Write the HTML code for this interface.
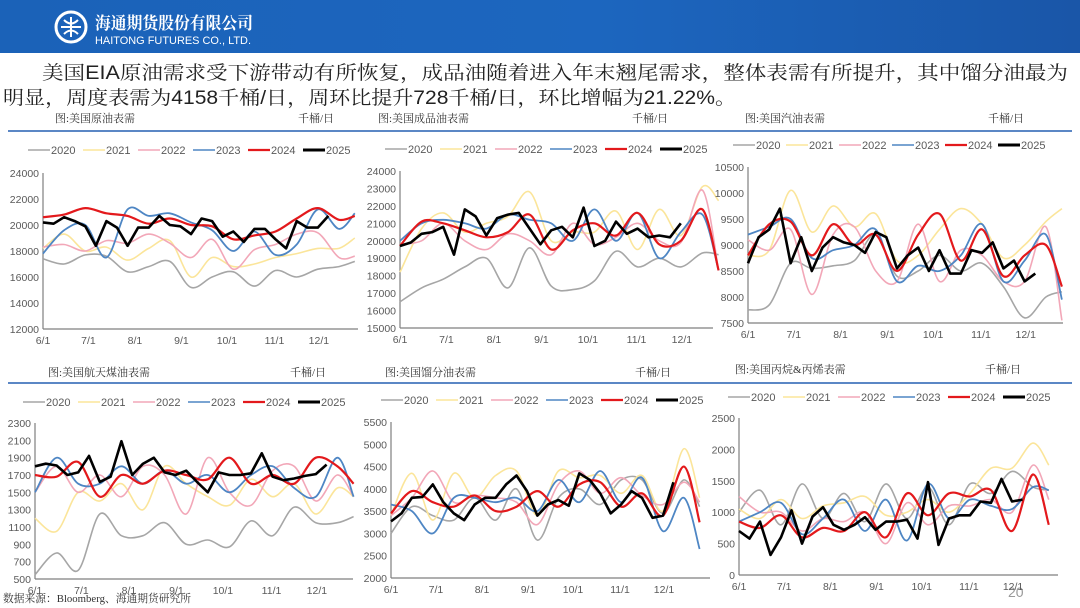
<!DOCTYPE html>
<html><head><meta charset="utf-8">
<style>
html,body{margin:0;padding:0;background:#fff;}
#root{position:relative;width:1080px;height:608px;overflow:hidden;font-family:"Liberation Sans","Noto Sans CJK SC",sans-serif;}
svg text{font-family:"Liberation Sans","Noto Sans CJK SC",sans-serif;}
.ser{font-family:"Liberation Serif","Noto Serif CJK SC",serif !important;}
.body{font-family:"Liberation Sans","Noto Serif CJK SC",serif !important;}
</style></head>
<body>
<div id="root">
<svg id="svg" width="1080" height="608" viewBox="0 0 1080 608" xmlns="http://www.w3.org/2000/svg">
<defs>
<linearGradient id="hdr" x1="0" y1="0" x2="1" y2="0">
<stop offset="0" stop-color="#1b62b8"/><stop offset="0.55" stop-color="#1c66bf"/><stop offset="1" stop-color="#1a56a8"/>
</linearGradient>
</defs>
<g>
<rect x="0" y="0" width="1080" height="53" fill="url(#hdr)"/>
<circle cx="71" cy="27" r="15" fill="none" stroke="#fff" stroke-width="3"/>
<path d="M61 27h20M71 17v20M64 20q7 7 14 0M64 34q7-7 14 0" stroke="#fff" stroke-width="2" fill="none"/>
<text x="95" y="29" font-size="17" font-weight="bold" fill="#fff" class="ser" textLength="158" lengthAdjust="spacingAndGlyphs">海通期货股份有限公司</text>
<text x="95" y="44" font-size="11" fill="#fff" textLength="156" lengthAdjust="spacingAndGlyphs">HAITONG FUTURES CO., LTD.</text>
</g>
<g>
<text x="42" y="79" font-size="19" fill="#222" class="body" textLength="1026" lengthAdjust="spacingAndGlyphs">美国EIA原油需求受下游带动有所恢复，成品油随着进入年末翘尾需求，整体表需有所提升，其中馏分油最为</text>
<text x="3" y="104" font-size="19" fill="#222" class="body" textLength="733" lengthAdjust="spacingAndGlyphs">明显，周度表需为4158千桶/日，周环比提升728千桶/日，环比增幅为21.22%。</text>
</g>
<line x1="8" y1="131" x2="1072" y2="131" stroke="#5b87c5" stroke-width="2"/>
<line x1="8" y1="383" x2="1072" y2="383" stroke="#5b87c5" stroke-width="2"/>
<text x="3" y="602" font-size="11" fill="#333" class="ser" textLength="188" lengthAdjust="spacingAndGlyphs">数据来源：Bloomberg、海通期货研究所</text>
<text x="1008" y="597" font-size="14" fill="#999">20</text>
</svg>
</div>
<script>
// shared categories
const monthLabels = ["6/1","7/1","8/1","9/1","10/1","11/1","12/1"];
const monthWeeks = [0,4.3,8.7,13.1,17.4,21.9,26.1];
const oldWeeks = [0,2,4,6,8,10,12,14,16,18,20,22,24,26,28,29.5];
const years = ["2020","2021","2022","2023","2024","2025"];

// chart 1: crude oil
const crudeTicks = [12000,14000,16000,18000,20000,22000,24000];
const crude2020 = [17400,17000,17700,17600,16400,16800,17200,15200,16000,16400,15300,16500,16000,16600,16800,17200];
const crude2021 = [18200,19300,18000,18300,17300,18200,18800,16000,17500,16800,17000,17500,17800,18200,18200,19000];
const crude2022 = [18300,18500,18000,18800,18600,19300,18600,17500,18900,16600,18100,18500,19300,19400,17500,17600];
const crude2023 = [17800,19600,20000,17500,21200,20700,20900,20200,19600,18000,19500,17700,18500,21200,19700,20900];
const crude2024 = [20600,20800,21300,20900,20700,20100,20500,20000,19900,18900,19200,19500,20500,21300,20400,20700];
const crude2025 = [20200,20100,20600,20300,19900,18400,20300,19800,18400,19800,19800,20700,20000,19900,19300,20500,20300,19100,19500,18700,19700,19700,18900,18200,20300,19800,19800,20700];

// chart 2: refined products
const prodTicks = [15000,16000,17000,18000,19000,20000,21000,22000,23000,24000];
const prod2020 = [16500,17300,17800,18500,19000,17300,19600,17400,17200,17700,19400,18500,19000,18500,19300,19200];
const prod2021 = [18200,20700,21600,20500,21000,21400,22800,20000,20500,20500,21700,19500,21800,20300,23100,22300];
const prod2022 = [19800,20000,21000,20000,19500,20400,20000,19200,21000,19800,20200,21000,20000,19900,22900,18300];
const prod2023 = [20000,21000,21200,21000,20700,21500,21200,21000,20000,21800,20000,21600,19000,20500,21500,18300];
const prod2024 = [19700,21100,21000,20600,20200,20500,21500,19500,20600,21000,20300,21600,19800,20000,21800,18300];
const prod2025 = [19700,19900,20400,20500,20800,19200,21800,21400,20300,21300,21500,21600,20700,19800,20600,20800,20200,21900,19700,20000,21100,20400,20700,20200,20300,20200,21000];

// chart 3: gasoline
const gasTicks = [7500,8000,8500,9000,9500,10000,10500];
const gas2020 = [7750,7850,8650,8550,8600,8700,9200,8400,8500,8800,8500,8650,8200,7600,8000,8100];
const gas2021 = [8800,8900,10050,9250,9750,9350,9600,8700,8800,9300,9700,9400,8750,9000,9450,9700];
const gas2022 = [9100,8900,9300,8050,9200,9350,8500,8300,9400,8300,8900,8800,8300,8300,9350,7550];
const gas2023 = [9200,9350,9500,8750,8900,9000,9300,8300,8600,8500,8800,9400,8300,8700,9200,7950];
const gas2024 = [8800,9400,9450,8800,9400,9000,9200,8500,9200,9600,8700,9300,8400,8800,9000,8200];
const gas2025 = [8650,9150,9300,9700,8650,9150,8500,8950,9150,9050,9000,8850,9250,9150,8550,8800,8950,8500,8900,8450,8450,8900,8850,9050,8550,8700,8300,8450];

// chart 4: jet fuel
const jetTicks = [500,700,900,1100,1300,1500,1700,1900,2100,2300];
const jet2020 = [550,800,600,1250,1000,1000,1150,900,950,870,1170,1000,1330,1150,1150,1220];
const jet2021 = [1200,1050,1500,1400,1600,1300,1800,1600,1450,1350,1650,1450,1600,1250,1550,1450];
const jet2022 = [1500,1800,1500,1700,1450,1800,1700,1250,1900,1500,1350,1750,1800,1400,1700,1450];
const jet2023 = [1500,1900,1600,1600,1800,1600,1750,1600,1700,1500,1700,1800,1550,1450,1900,1450];
const jet2024 = [1700,1680,1850,1450,1700,1600,1750,1700,1650,1900,1600,1700,1600,1900,1800,1600];
const jet2025 = [1800,1830,1810,1700,1730,1920,1620,1680,2090,1700,1830,1900,1730,1700,1750,1620,1500,1730,1700,1700,1720,1950,1680,1640,1660,1690,1710,1820];

// chart 5: distillate
const distTicks = [2000,2500,3000,3500,4000,4500,5000,5500];
const dist2020 = [3000,3600,3400,3300,3800,3300,4000,2850,3800,4000,3650,4200,4200,3450,4200,3600];
const dist2021 = [3400,4350,3300,4350,3800,4300,4400,3400,4400,4250,4300,3900,4300,3500,4900,3800];
const dist2022 = [3400,3800,4400,3700,3850,3800,3700,3200,4100,4400,3900,4250,3850,3650,4150,3700];
const dist2023 = [3650,3500,3000,3800,3800,3700,3800,3500,4200,3700,4400,3700,4250,3050,3800,2650];
const dist2024 = [3450,3950,3700,3600,3850,3500,3600,3950,3600,4100,4150,3600,3900,3400,4500,3250];
const dist2025 = [3270,3450,3800,3820,4100,3700,3450,3300,3650,3800,3800,4100,4300,3950,3400,3650,3750,3620,4350,4200,3900,3450,3650,3950,3800,3350,3400,4150];

// chart 6: propane/propylene
const propTicks = [0,500,1000,1500,2000,2500];
const prop2020 = [1000,1350,800,1450,900,1300,850,1450,900,1400,800,1450,1300,1650,1400,1350];
const prop2021 = [1050,900,1200,900,1100,1150,1250,950,1000,1200,1000,1300,1700,1700,2100,1750];
const prop2022 = [1250,1000,1000,700,900,850,1000,500,1150,800,1100,1100,1200,1000,1750,1200];
const prop2023 = [850,1000,1150,650,900,1200,700,1200,550,1450,900,1200,1100,1050,1400,1350];
const prop2024 = [850,750,950,600,750,700,1000,600,1300,950,1300,1250,1350,700,1600,800];
const prop2025 = [700,580,850,320,600,1030,500,930,1080,800,720,800,920,720,850,850,880,580,1480,480,900,950,950,1170,1150,1530,1170,1200];

const colors = ["#a6a6a6","#fbe59a","#f2a7b8","#4e86c4","#e3191c","#000000"];
const widths = [1.6,1.6,1.6,1.8,2.2,2.6];
const NS = "http://www.w3.org/2000/svg";
const svg = document.getElementById("svg");

function mk(tag, attrs, parent){
  const e = document.createElementNS(NS, tag);
  for (const k in attrs) e.setAttribute(k, attrs[k]);
  (parent||svg).appendChild(e);
  return e;
}
function smoothPath(pts){
  let d = "M"+pts[0][0].toFixed(1)+" "+pts[0][1].toFixed(1);
  for (let i=0;i<pts.length-1;i++){
    const p0=pts[Math.max(0,i-1)], p1=pts[i], p2=pts[i+1], p3=pts[Math.min(pts.length-1,i+2)];
    const c1x=p1[0]+(p2[0]-p0[0])/6, c1y=p1[1]+(p2[1]-p0[1])/6;
    const c2x=p2[0]-(p3[0]-p1[0])/6, c2y=p2[1]-(p3[1]-p1[1])/6;
    d+=" C"+c1x.toFixed(1)+" "+c1y.toFixed(1)+" "+c2x.toFixed(1)+" "+c2y.toFixed(1)+" "+p2[0].toFixed(1)+" "+p2[1].toFixed(1);
  }
  return d;
}

function drawChart(cfg){
  const g = mk("g", {});
  
  
  const ticks = cfg.ticks;
  const ymin = ticks[0], ymax = ticks[ticks.length-1];
  const yS = v => cfg.yBot - (v - ymin) / (ymax - ymin) * (cfg.yBot - cfg.yTop);
  const xS = w => cfg.x0 + w * cfg.pw;
  const t = mk("text", {x:cfg.titleX, y:cfg.titleY, "font-size":11, fill:"#333", class:"ser"}, g);
  t.textContent = cfg.title;
  
  
  const u = mk("text", {x:cfg.unitX, y:cfg.titleY, "font-size":11, fill:"#333", class:"ser"}, g);
  u.textContent = "千桶/日";
  
  
  years.forEach((yr,i)=>{
    const lx = cfg.legX + i*cfg.legStep;
    const le = mk("g", {}, g);
    
    
    mk("line", {x1:lx, y1:cfg.legY, x2:lx+22, y2:cfg.legY, stroke:colors[i], "stroke-width":i===5?3:(i===4?2.2:1.6)}, le);
    const tx = mk("text", {x:lx+23, y:cfg.legY+4, "font-size":11, fill:"#595959"}, le);
    tx.textContent = yr;
  });
  ticks.forEach(v=>{
    const tl = mk("text", {x:cfg.x0-4, y:yS(v)+4, "font-size":10.5, fill:"#595959", "text-anchor":"end"}, g);
    tl.textContent = v;
    
    
  });
  monthWeeks.forEach((w,i)=>{
    const tl = mk("text", {x:xS(w), y:cfg.yBot+15, "font-size":10.5, fill:"#595959", "text-anchor":"middle"}, g);
    tl.textContent = monthLabels[i];
    
    
  });
  const ya = mk("line", {x1:cfg.x0, y1:cfg.yTop, x2:cfg.x0, y2:cfg.yBot, stroke:"#7f7f7f", "stroke-width":1.2}, g);
  
  
  const xa = mk("line", {x1:cfg.x0, y1:cfg.yBot, x2:cfg.xEnd, y2:cfg.yBot, stroke:"#7f7f7f", "stroke-width":1.2}, g);
  
  
  cfg.series.forEach((vals,i)=>{
    let d;
    if (i < 5) {
      const pts = vals.map((v,k)=>[xS(oldWeeks[k]), yS(v)]);
      d = smoothPath(pts);
    } else {
      d = vals.map((v,k)=>(k?"L":"M")+xS(k).toFixed(1)+" "+yS(v).toFixed(1)).join(" ");
    }
    const p = mk("path", {d:d, fill:"none", stroke:colors[i], "stroke-width":widths[i], "stroke-linejoin":"round"}, g);
    
    
  });
}

drawChart({name:"crude-oil-demand-chart", title:"图:美国原油表需", titleX:55, unitX:298, titleY:122,
  legX:28, legStep:55, legY:150, x0:43, pw:10.57, yTop:173, yBot:329, xEnd:358, ticks:crudeTicks,
  series:[crude2020,crude2021,crude2022,crude2023,crude2024,crude2025]});
drawChart({name:"refined-products-demand-chart", title:"图:美国成品油表需", titleX:378, unitX:632, titleY:122,
  legX:385, legStep:55, legY:149, x0:400, pw:10.8, yTop:171, yBot:328, xEnd:713, ticks:prodTicks,
  series:[prod2020,prod2021,prod2022,prod2023,prod2024,prod2025]});
drawChart({name:"gasoline-demand-chart", title:"图:美国汽油表需", titleX:745, unitX:988, titleY:122,
  legX:733, legStep:53, legY:145, x0:748, pw:10.64, yTop:167, yBot:323, xEnd:1063, ticks:gasTicks,
  series:[gas2020,gas2021,gas2022,gas2023,gas2024,gas2025]});
drawChart({name:"jet-fuel-demand-chart", title:"图:美国航天煤油表需", titleX:48, unitX:290, titleY:376,
  legX:23, legStep:55, legY:402, x0:35, pw:10.8, yTop:423, yBot:579, xEnd:353, ticks:jetTicks,
  series:[jet2020,jet2021,jet2022,jet2023,jet2024,jet2025]});
drawChart({name:"distillate-demand-chart", title:"图:美国馏分油表需", titleX:385, unitX:635, titleY:376,
  legX:381, legStep:55, legY:400, x0:391, pw:10.46, yTop:422, yBot:578, xEnd:710, ticks:distTicks,
  series:[dist2020,dist2021,dist2022,dist2023,dist2024,dist2025]});
drawChart({name:"propane-propylene-demand-chart", title:"图:美国丙烷&丙烯表需", titleX:735, unitX:985, titleY:373,
  legX:728, legStep:55, legY:397, x0:739, pw:10.5, yTop:418, yBot:575, xEnd:1058, ticks:propTicks,
  series:[prop2020,prop2021,prop2022,prop2023,prop2024,prop2025]});
</script>
</body></html>
